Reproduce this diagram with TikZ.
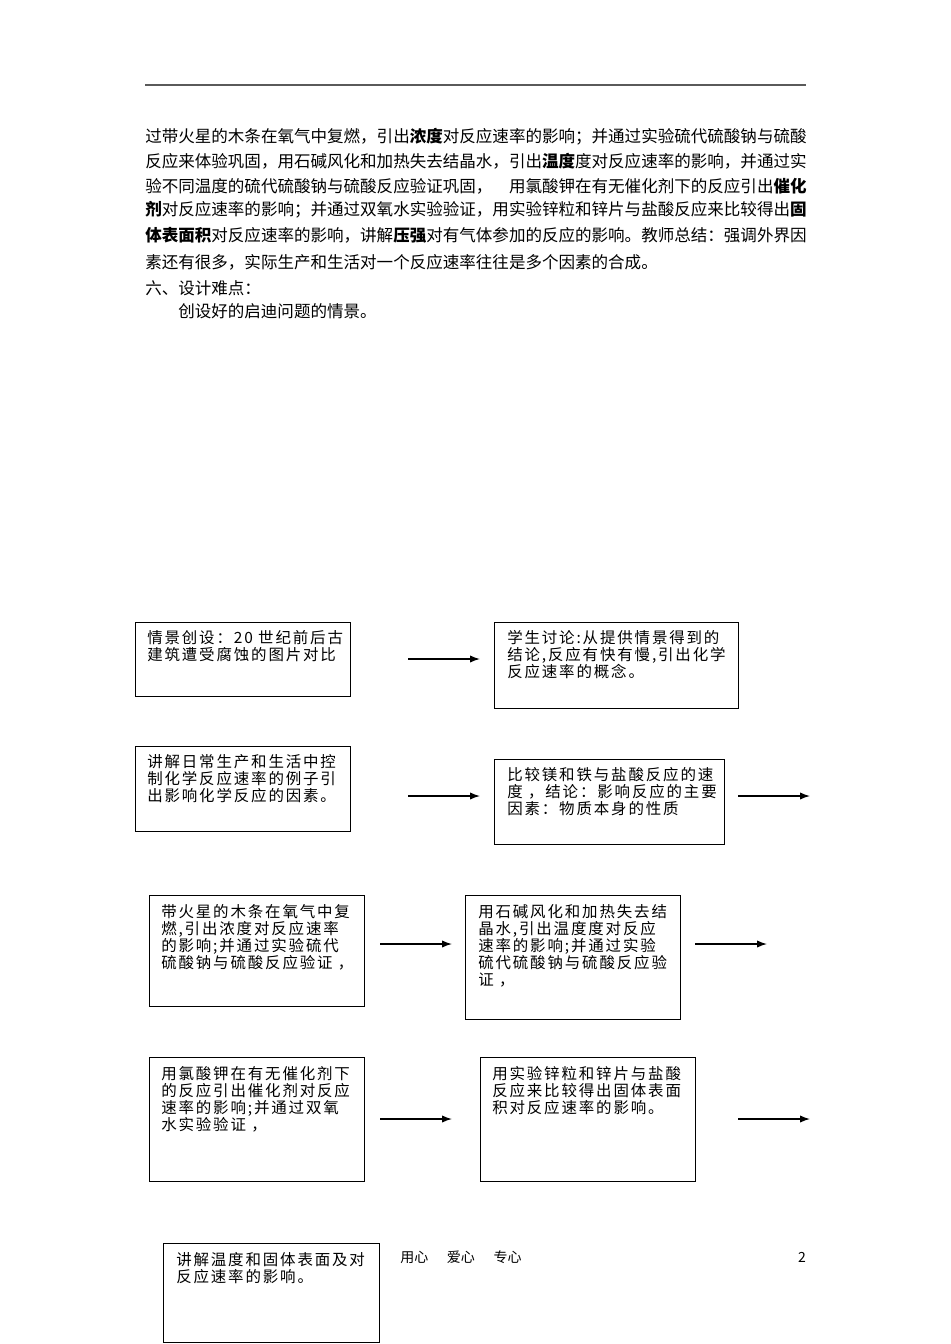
\documentclass[tikz,border=0pt]{standalone}
\usepackage{fontspec}
\setmainfont{Noto Sans CJK SC}
\newfontfamily\boxfont{Noto Sans CJK SC}[LetterSpace=12]
\usepackage{tikz}
\usetikzlibrary{arrows.meta}
\definecolor{rulegray}{RGB}{90,90,90}

\begin{document}
\begin{tikzpicture}[x=0.75pt,y=0.75pt,yscale=-1,xscale=1,
  flowbox/.style 2 args={draw, line width=1pt, inner sep=0pt, anchor=north west,
    minimum width=#1*0.75pt, minimum height=#2*0.75pt},
  boxtxt/.style={anchor=north west, inner sep=0pt, align=left,
    font=\boxfont\fontsize{11.6}{12.75}\selectfont},
  para/.style={anchor=west, inner sep=0pt, font=\fontsize{12.4}{15}\selectfont},
  arr/.style={line width=1pt, -{Latex[length=7.5pt,width=5.5pt]}}]
\useasboundingbox (0,0) rectangle (950,1344);

%Straight Lines: top rule
\coordinate (rl) at (145,85);
\coordinate (rr) at (806,85);
\draw [rulegray, line width=1.5pt] (rl) -- (rr);

% Text Node: paragraph
\node[para] (p1) at (145,137) {过带火星的木条在氧气中复燃，引出{\bfseries 浓度}对反应速率的影响；并通过实验硫代硫酸钠与硫酸};
\node[para] (p2) at (145,161) {反应来体验巩固，用石碱风化和加热失去结晶水，引出{\bfseries 温度}度对反应速率的影响，并通过实};
\node[para] (p3) at (145,186) {验不同温度的硫代硫酸钠与硫酸反应验证巩固，\hspace{12.4pt}用氯酸钾在有无催化剂下的反应引出{\bfseries 催化}};
\node[para] (p4) at (145,210) {{\bfseries 剂}对反应速率的影响；并通过双氧水实验验证，用实验锌粒和锌片与盐酸反应来比较得出{\bfseries 固}};
\node[para] (p5) at (145,235) {{\bfseries 体表面积}对反应速率的影响，讲解{\bfseries 压强}对有气体参加的反应的影响。教师总结：强调外界因};
\node[para] (p6) at (145,262) {素还有很多，实际生产和生活对一个反应速率往往是多个因素的合成。};
\node[para] (p7) at (145,288) {六、设计难点：};
\node[para] (p8) at (178,311) {创设好的启迪问题的情景。};

%Shape: Rectangles
\node[flowbox={215}{74}] (bA) at (135,622) {};
\node[flowbox={244}{86}] (bB) at (494,622) {};
\node[flowbox={215}{85}] (bC) at (135,746) {};
\node[flowbox={230}{85}] (bD) at (494,759) {};
\node[flowbox={215}{111}] (bE) at (149,895) {};
\node[flowbox={215}{124}] (bF) at (465,895) {};
\node[flowbox={215}{124}] (bG) at (149,1057) {};
\node[flowbox={215}{124}] (bH) at (480,1057) {};
\node[flowbox={216}{99}] (bI) at (163,1243) {};

% Text Node
\node[boxtxt] (tA) at (147,630) {情景创设：20 世纪前后古\\建筑遭受腐蚀的图片对比};
% Text Node
\node[boxtxt] (tB) at (507,630) {学生讨论:从提供情景得到的\\结论,反应有快有慢,引出化学\\反应速率的概念。};
% Text Node
\node[boxtxt] (tC) at (147,754) {讲解日常生产和生活中控\\制化学反应速率的例子引\\出影响化学反应的因素。};
% Text Node
\node[boxtxt] (tD) at (507,767) {比较镁和铁与盐酸反应的速\\度 ，结论：影响反应的主要\\因素：物质本身的性质};
% Text Node
\node[boxtxt] (tE) at (161,904) {带火星的木条在氧气中复\\燃,引出浓度对反应速率\\的影响;并通过实验硫代\\硫酸钠与硫酸反应验证 ，};
% Text Node
\node[boxtxt] (tF) at (478,904) {用石碱风化和加热失去结\\晶水,引出温度度对反应\\速率的影响;并通过实验\\硫代硫酸钠与硫酸反应验\\证 ，};
% Text Node
\node[boxtxt] (tG) at (161,1066) {用氯酸钾在有无催化剂下\\的反应引出催化剂对反应\\速率的影响;并通过双氧\\水实验验证 ，};
% Text Node
\node[boxtxt] (tH) at (492,1066) {用实验锌粒和锌片与盐酸\\反应来比较得出固体表面\\积对反应速率的影响。};
% Text Node
\node[boxtxt] (tI) at (176,1252) {讲解温度和固体表面及对\\反应速率的影响。};

%Straight Lines: arrows
\coordinate (a1s) at (408,659);  \coordinate (a1e) at (480,659);
\coordinate (a2s) at (408,796);  \coordinate (a2e) at (480,796);
\coordinate (a3s) at (738,796);  \coordinate (a3e) at (810,796);
\coordinate (a4s) at (380,944);  \coordinate (a4e) at (452,944);
\coordinate (a5s) at (695,944);  \coordinate (a5e) at (767,944);
\coordinate (a6s) at (380,1119); \coordinate (a6e) at (452,1119);
\coordinate (a7s) at (738,1119); \coordinate (a7e) at (810,1119);
\draw [arr] (a1s) -- (a1e);
\draw [arr] (a2s) -- (a2e);
\draw [arr] (a3s) -- (a3e);
\draw [arr] (a4s) -- (a4e);
\draw [arr] (a5s) -- (a5e);
\draw [arr] (a6s) -- (a6e);
\draw [arr] (a7s) -- (a7e);

% Text Node: footer
\node[anchor=west, inner sep=0pt, font=\fontsize{10.5}{12}\selectfont] (ft) at (400,1257) {用心\hspace{14pt}爱心\hspace{14pt}专心};
\node[inner sep=0pt, font=\fontsize{10.5}{12}\selectfont] (pg) at (802,1257) {2};
\end{tikzpicture}
\end{document}
